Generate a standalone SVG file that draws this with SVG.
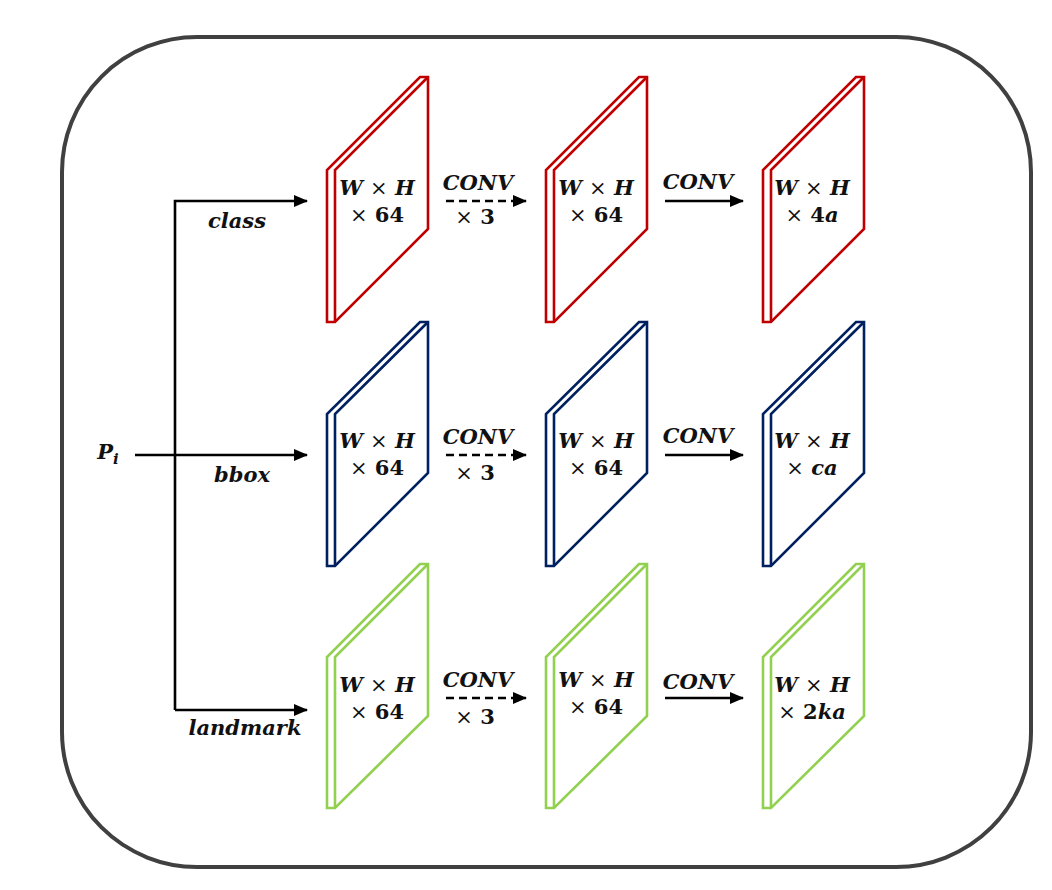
<svg xmlns="http://www.w3.org/2000/svg" width="1052" height="890" viewBox="0 0 1052 890">
<style>
.plate{fill:#fff;stroke-width:2.6;stroke-linejoin:miter}
.red{stroke:#C00000}.blue{stroke:#002060}.green{stroke:#92D050}
.inner{fill:none;stroke-width:2.6}
.t{font-family:"DejaVu Serif","Liberation Serif",serif;font-size:21px;font-weight:bold;fill:#111;text-anchor:middle}
.i{font-style:italic}
.x{font-weight:normal}
.ln{fill:none;stroke:#000;stroke-width:2.6}
.dash{stroke-dasharray:8 5}
</style>
<defs>
<marker id="ah" markerUnits="userSpaceOnUse" markerWidth="14" markerHeight="12" refX="13" refY="6" orient="auto">
<path d="M0,0 L14,6 L0,12 Z" fill="#000"/>
</marker>
</defs>
<rect x="62" y="37" width="969" height="830" rx="135" ry="135" fill="#fff" stroke="#404040" stroke-width="4"/>

<g id="connectors">
<path class="ln" d="M175,710 V201 H307" marker-end="url(#ah)"/>
<path class="ln" d="M135,455 H307" marker-end="url(#ah)"/>
<path class="ln" d="M175,710 H307" marker-end="url(#ah)"/>
<path class="ln dash" d="M446,201 H526" marker-end="url(#ah)"/>
<path class="ln dash" d="M446,455 H526" marker-end="url(#ah)"/>
<path class="ln dash" d="M446,698 H526" marker-end="url(#ah)"/>
<path class="ln" d="M665,201 H743" marker-end="url(#ah)"/>
<path class="ln" d="M665,455 H743" marker-end="url(#ah)"/>
<path class="ln" d="M665,698 H743" marker-end="url(#ah)"/>
</g>

<g id="labels">
<text class="t" x="108" y="459"><tspan class="i">P</tspan><tspan class="i" font-size="15" dy="5">i</tspan></text>
<text class="t i" x="237" y="228">class</text>
<text class="t i" x="242" y="482">bbox</text>
<text class="t i" x="245" y="735">landmark</text>
<text class="t i" x="478" y="190">CONV</text>
<text class="t" x="475" y="224"><tspan class="x">×</tspan> 3</text>
<text class="t i" x="478" y="444">CONV</text>
<text class="t" x="475" y="480"><tspan class="x">×</tspan> 3</text>
<text class="t i" x="478" y="687">CONV</text>
<text class="t" x="475" y="724"><tspan class="x">×</tspan> 3</text>
<text class="t i" x="698" y="189">CONV</text>
<text class="t i" x="698" y="443">CONV</text>
<text class="t i" x="698" y="689">CONV</text>
</g>

<g id="class1">
<path class="plate red" d="M327,322 V170 L420,77 H428 V229 L335,322 Z"/>
<path class="inner red" d="M335,322 V170 L428,77"/>
<text class="t" x="377" y="195"><tspan class="i">W</tspan> <tspan class="x">×</tspan> <tspan class="i">H</tspan></text>
<text class="t" x="377" y="222"><tspan class="x">×</tspan> 64</text>
</g>
<g id="class2">
<path class="plate red" d="M546,322 V170 L639,77 H647 V229 L554,322 Z"/>
<path class="inner red" d="M554,322 V170 L647,77"/>
<text class="t" x="596" y="195"><tspan class="i">W</tspan> <tspan class="x">×</tspan> <tspan class="i">H</tspan></text>
<text class="t" x="596" y="222"><tspan class="x">×</tspan> 64</text>
</g>
<g id="class3">
<path class="plate red" d="M763,322 V170 L856,77 H864 V229 L771,322 Z"/>
<path class="inner red" d="M771,322 V170 L864,77"/>
<text class="t" x="812" y="195"><tspan class="i">W</tspan> <tspan class="x">×</tspan> <tspan class="i">H</tspan></text>
<text class="t" x="812" y="222"><tspan class="x">×</tspan> 4<tspan class="i">a</tspan></text>
</g>

<g id="bbox1">
<path class="plate blue" d="M327,566 V414 L420,322 H428 V473 L335,566 Z"/>
<path class="inner blue" d="M335,566 V414 L428,322"/>
<text class="t" x="377" y="448"><tspan class="i">W</tspan> <tspan class="x">×</tspan> <tspan class="i">H</tspan></text>
<text class="t" x="377" y="475"><tspan class="x">×</tspan> 64</text>
</g>
<g id="bbox2">
<path class="plate blue" d="M546,566 V414 L639,322 H647 V473 L554,566 Z"/>
<path class="inner blue" d="M554,566 V414 L647,322"/>
<text class="t" x="596" y="448"><tspan class="i">W</tspan> <tspan class="x">×</tspan> <tspan class="i">H</tspan></text>
<text class="t" x="596" y="475"><tspan class="x">×</tspan> 64</text>
</g>
<g id="bbox3">
<path class="plate blue" d="M763,566 V414 L856,322 H864 V473 L771,566 Z"/>
<path class="inner blue" d="M771,566 V414 L864,322"/>
<text class="t" x="812" y="448"><tspan class="i">W</tspan> <tspan class="x">×</tspan> <tspan class="i">H</tspan></text>
<text class="t" x="812" y="475"><tspan class="x">×</tspan> <tspan class="i">ca</tspan></text>
</g>

<g id="landmark1">
<path class="plate green" d="M327,808 V657 L420,564 H428 V716 L335,808 Z"/>
<path class="inner green" d="M335,808 V657 L428,564"/>
<text class="t" x="377" y="692"><tspan class="i">W</tspan> <tspan class="x">×</tspan> <tspan class="i">H</tspan></text>
<text class="t" x="377" y="719"><tspan class="x">×</tspan> 64</text>
</g>
<g id="landmark2">
<path class="plate green" d="M546,808 V657 L639,564 H647 V716 L554,808 Z"/>
<path class="inner green" d="M554,808 V657 L647,564"/>
<text class="t" x="596" y="687"><tspan class="i">W</tspan> <tspan class="x">×</tspan> <tspan class="i">H</tspan></text>
<text class="t" x="596" y="714"><tspan class="x">×</tspan> 64</text>
</g>
<g id="landmark3">
<path class="plate green" d="M763,808 V657 L856,564 H864 V716 L771,808 Z"/>
<path class="inner green" d="M771,808 V657 L864,564"/>
<text class="t" x="812" y="692"><tspan class="i">W</tspan> <tspan class="x">×</tspan> <tspan class="i">H</tspan></text>
<text class="t" x="812" y="719"><tspan class="x">×</tspan> 2<tspan class="i">ka</tspan></text>
</g>
</svg>
